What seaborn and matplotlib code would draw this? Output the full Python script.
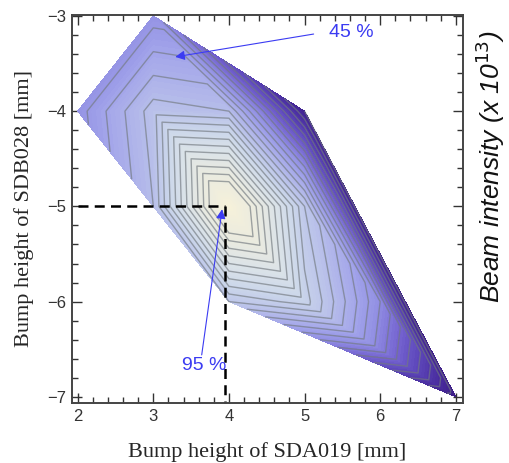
import numpy as np
import matplotlib
matplotlib.use("Agg")
import matplotlib.pyplot as plt
import matplotlib.tri as mtri
from matplotlib.colors import LinearSegmentedColormap
from matplotlib.ticker import MultipleLocator
import seaborn as sns

# ---- data ----
sda019 = [2, 3, 3, 3, 4, 4, 4, 5, 5, 5, 6, 7]            # x, mm
sdb028 = [-4, -3, -4, -5, -4, -5, -6, -4, -5, -6, -6, -7]  # y, mm
intensity = [32, 32, 48, 46, 46, 100, 50, 2, 50, 56, 30, 0]  # relative %
triangles = [[0, 1, 2], [0, 2, 3], [1, 4, 2], [1, 7, 4], [2, 4, 5], [2, 5, 3],
             [3, 5, 6], [4, 7, 8], [4, 8, 5], [5, 8, 9], [5, 9, 6], [7, 11, 10],
             [7, 10, 8], [8, 10, 9], [9, 10, 11], [6, 9, 11]]
contour_levels = list(range(2, 90, 4))
x_ticks = [2, 3, 4, 5, 6, 7]
y_ticks = [-7, -6, -5, -4, -3]
optimum = (3.95, -5.0)
label_45 = "45 %"
label_95 = "95 %"

sns.set_style("ticks")
plt.rcParams["font.family"] = ["Liberation Sans", "DejaVu Sans"]

fig = plt.figure(figsize=(5.10, 4.63), dpi=100)
ax = fig.add_axes([0.1412, 0.1296, 0.7666, 0.8380])

cmap = LinearSegmentedColormap.from_list(
    "mma", [(0.00, "#3d1d88"), (0.07, "#4a2ea0"), (0.15, "#5e48bc"),
            (0.23, "#7767d2"), (0.31, "#9290e4"), (0.38, "#a3a5ea"),
            (0.48, "#bac2ea"), (0.58, "#cbd6ea"), (0.70, "#dbe3e8"),
            (0.82, "#e9eae0"), (1.00, "#f6f1da")])

tri = mtri.Triangulation(sda019, sdb028, triangles)
ax.tricontourf(tri, intensity, levels=np.arange(0, 101, 1), cmap=cmap, vmin=0, vmax=100)
ax.tricontour(tri, intensity, levels=contour_levels, colors="#72797f",
              linewidths=1.0, alpha=0.65)

# dashed guide lines
dash = (0, (4, 2.5))
ax.plot([2.0, optimum[0]], [optimum[1], optimum[1]], color="black", lw=1.8, linestyle=dash)
ax.plot([optimum[0], optimum[0]], [optimum[1], -7.065], color="black", lw=1.8,
        linestyle=dash, clip_on=False)

blue = "#3b3bf2"
ax.text(5.62, -3.17, label_45, color=blue, fontsize=14, ha="center", va="center")
ax.annotate("", xy=(3.29, -3.43), xytext=(5.12, -3.19),
            arrowprops=dict(arrowstyle="-|>", color=blue, lw=0.8,
                            mutation_scale=14, shrinkA=0, shrinkB=0))
ax.text(3.67, -6.67, label_95, color=blue, fontsize=14, ha="center", va="center")
ax.annotate("", xy=(3.91, -5.03), xytext=(3.64, -6.56),
            arrowprops=dict(arrowstyle="-|>", color=blue, lw=0.8,
                            mutation_scale=14, shrinkA=0, shrinkB=0))

ax.set_xlim(1.925, 7.095)
ax.set_ylim(-7.065, -2.99)
ax.set_xticks(x_ticks)
ax.set_yticks(y_ticks)
ax.set_xticklabels([str(v) for v in x_ticks])
ax.set_yticklabels(["\u2212" + str(-v) for v in y_ticks])
ax.xaxis.set_minor_locator(MultipleLocator(0.2))
ax.yaxis.set_minor_locator(MultipleLocator(0.2))
ax.tick_params(which="both", direction="in", top=True, right=True,
               color="#333333", width=1.0)
ax.tick_params(which="major", length=7, labelsize=12, labelcolor="#333333", pad=4)
ax.tick_params(which="minor", length=4)
for s in ax.spines.values():
    s.set_color("#444444")
    s.set_linewidth(1.4)

serif = ["Liberation Serif", "DejaVu Serif"]
ax.set_xlabel("Bump height of SDA019 [mm]", family=serif, fontsize=16, labelpad=13)
ax.set_ylabel("Bump height of SDB028 [mm]", family=serif, fontsize=16, labelpad=10)

fig.text(0.962, 0.64, "Beam intensity (x 10$^{13}$)", rotation=90, ha="center",
         va="center", fontsize=19, style="italic", color="#111111")

fig.savefig("out.png", dpi=100, facecolor="white")
